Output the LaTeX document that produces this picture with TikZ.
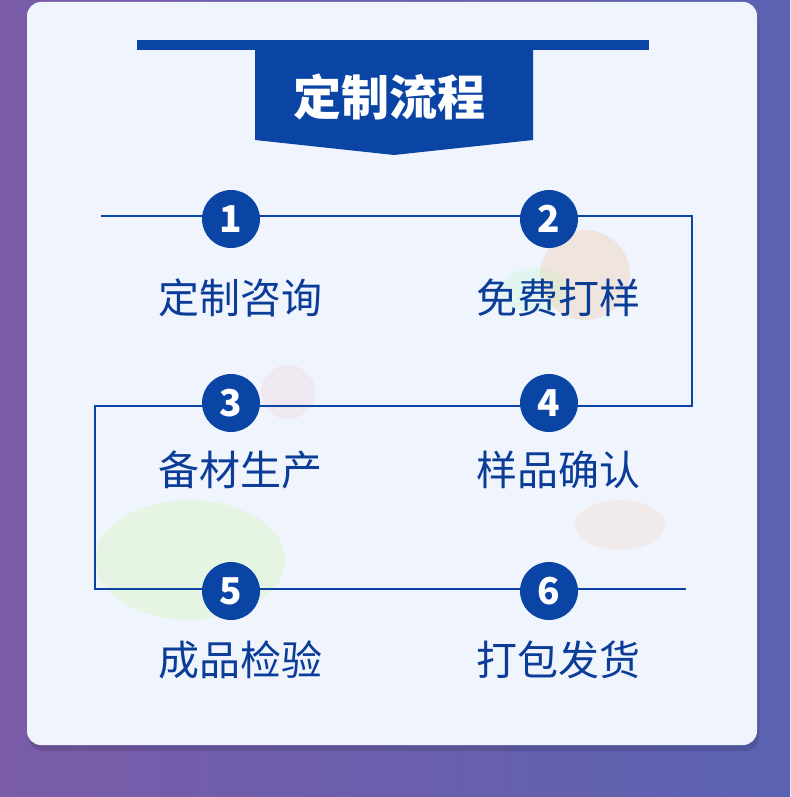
\documentclass[tikz,border=0pt]{standalone}
\usepackage{fontspec}
\setmainfont{Noto Sans CJK SC}
\usetikzlibrary{shadows}
\definecolor{bgl}{HTML}{7A5CA8}
\definecolor{bgr}{HTML}{5A62B2}
\definecolor{card}{HTML}{EFF4FD}
\definecolor{navy}{HTML}{0A45A5}
\definecolor{txt}{HTML}{0B3C98}
\tikzset{num/.style={circle,fill=navy,minimum size=58pt,inner sep=0pt,text=white,font=\fontsize{37}{37}\selectfont\bfseries},
lab/.style={text=txt,font=\fontsize{41}{41}\selectfont},
flow/.style={draw=navy,line width=1.3pt}}
\begin{document}
\begin{tikzpicture}[x=1pt,y=-1pt]
\useasboundingbox (0,0) rectangle (790,797);
\shade[left color=bgl,right color=bgr] (0,0) rectangle (790,797);
\fill[black,opacity=0.12] (29,8) [rounded corners=14pt] rectangle (759,751);
\fill[card,rounded corners=14pt] (27,2) rectangle (757,745);
% faint blobs
\fill[green!40!yellow,opacity=0.10] (190,560) ellipse (95pt and 60pt);
\fill[orange,opacity=0.12] (585,275) circle (45pt);
\fill[green!50,opacity=0.10] (535,290) ellipse (35pt and 22pt);
\fill[red!40,opacity=0.12] (288,392) circle (27pt);
\fill[orange!60,opacity=0.12] (620,525) ellipse (45pt and 25pt);
% title
\fill[navy] (137,40) rectangle (649,50);
\fill[navy] (255,50) -- (533,50) -- (533,140) -- (394,155) -- (255,140) -- cycle;
\node[text=white,font=\fontsize{48}{48}\selectfont\bfseries] (title) at (389,97) {定制流程};
% flow line
\coordinate (s) at (101,216);
\coordinate (a) at (692,216);
\coordinate (b) at (692,406);
\coordinate (c) at (95,406);
\coordinate (d) at (95,589);
\coordinate (e) at (686,589);
\draw[flow] (s) -- (a) -- (b) -- (c) -- (d) -- (e);
\node[num] (n1) at (231,219) {1};
\node[num] (n2) at (549,219) {2};
\node[num] (n3) at (231,403) {3};
\node[num] (n4) at (549,403) {4};
\node[num] (n5) at (231,591) {5};
\node[num] (n6) at (549,591) {6};
\node[lab] (l1) at (240,298) {定制咨询};
\node[lab] (l2) at (558,298) {免费打样};
\node[lab] (l3) at (240,470) {备材生产};
\node[lab] (l4) at (558,470) {样品确认};
\node[lab] (l5) at (240,660) {成品检验};
\node[lab] (l6) at (558,660) {打包发货};
\end{tikzpicture}
\end{document}
